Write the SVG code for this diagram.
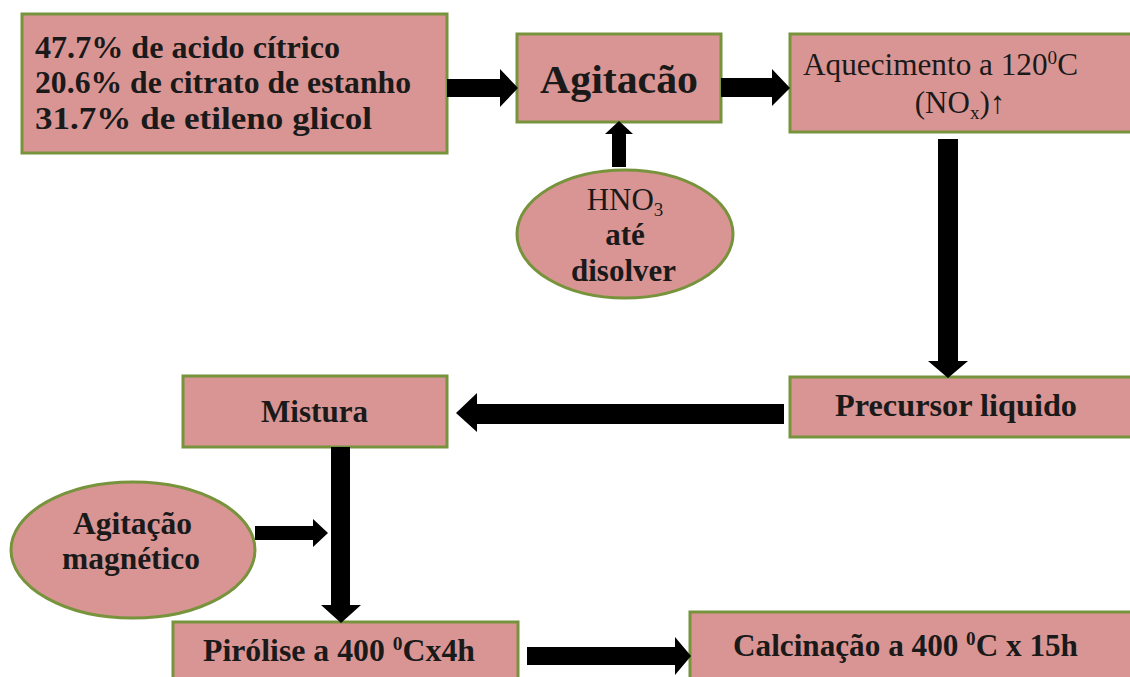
<svg xmlns="http://www.w3.org/2000/svg" width="1130" height="677" viewBox="0 0 1130 677">
<style>
.box{fill:#D99594;stroke:#77933C;stroke-width:3}
.t{font-family:"Liberation Serif","Times New Roman",serif;font-size:31px;fill:#1a1a1a}
.bd{font-family:"Liberation Serif",serif;font-weight:700}
.c{text-anchor:middle}
.sup{font-size:19px}
.arr{fill:#000}
</style>
<rect width="1130" height="677" fill="#fff"/>
<g id="n-mix">
<rect class="box" x="22" y="14" width="425" height="139"/>
<text class="t bd" x="35" y="58" textLength="305" lengthAdjust="spacingAndGlyphs">47.7% de acido cítrico</text>
<text class="t bd" x="35" y="93" textLength="376" lengthAdjust="spacingAndGlyphs">20.6% de citrato de estanho</text>
<text class="t bd" x="35" y="129" textLength="337" lengthAdjust="spacingAndGlyphs">31.7% de etileno glicol</text>
</g>
<g id="n-agitacao">
<rect class="box" x="517" y="34" width="204" height="88"/>
<text class="t bd" x="540" y="93" style="font-size:40px" textLength="158" lengthAdjust="spacingAndGlyphs">Agitacão</text>
</g>
<g id="n-aquecimento">
<rect class="box" x="790" y="34" width="345" height="98"/>
<text class="t" x="803" y="75" textLength="275" lengthAdjust="spacingAndGlyphs">Aquecimento a 120<tspan class="sup" dy="-11">0</tspan><tspan dy="11">C</tspan></text>
<text class="t c" x="960" y="113">(NO<tspan class="sup" dy="6">x</tspan><tspan dy="-6">)↑</tspan></text>
</g>
<g id="n-hno3">
<ellipse class="box" cx="625" cy="234" rx="108" ry="64"/>
<text class="t c" x="625" y="210">HNO<tspan class="sup" dy="6">3</tspan></text>
<text class="t bd c" x="625" y="245">até</text>
<text class="t bd" x="571" y="281" textLength="105" lengthAdjust="spacingAndGlyphs">disolver</text>
</g>
<g id="n-precursor">
<rect class="box" x="790" y="377" width="345" height="60"/>
<text class="t bd" x="835" y="416" textLength="242" lengthAdjust="spacingAndGlyphs">Precursor liquido</text>
</g>
<g id="n-mistura">
<rect class="box" x="183" y="376" width="264" height="71"/>
<text class="t bd" x="261" y="422" textLength="107" lengthAdjust="spacingAndGlyphs">Mistura</text>
</g>
<g id="n-agitacao-mag">
<ellipse class="box" cx="133" cy="550" rx="122" ry="68"/>
<text class="t bd" x="73" y="534" textLength="119" lengthAdjust="spacingAndGlyphs">Agitação</text>
<text class="t bd" x="62" y="569" textLength="138" lengthAdjust="spacingAndGlyphs">magnético</text>
</g>
<g id="n-pirolise">
<rect class="box" x="173" y="622" width="345" height="70"/>
<text class="t bd" x="203" y="661" textLength="272" lengthAdjust="spacingAndGlyphs">Pirólise a 400 <tspan class="sup" dy="-11">0</tspan><tspan dy="11">Cx4h</tspan></text>
</g>
<g id="n-calcinacao">
<rect class="box" x="690" y="612" width="445" height="80"/>
<text class="t bd" x="733" y="656" textLength="345" lengthAdjust="spacingAndGlyphs">Calcinação a 400 <tspan class="sup" dy="-11">0</tspan><tspan dy="11">C x 15h</tspan></text>
</g>
<g id="connectors">
<polygon class="arr" points="447,79 500,79 500,69 518,88 500,107 500,97 447,97"/>
<polygon class="arr" points="721,78 772,78 772,69 790,88 772,106 772,97 721,97"/>
<polygon class="arr" points="612,167 612,134 605,134 619,121 633,134 626,134 626,167"/>
<polygon class="arr" points="938,139 958,139 958,361 968,361 948,378 928,361 938,361"/>
<polygon class="arr" points="784,404 784,424 477,424 477,432 456,413 477,393 477,404"/>
<polygon class="arr" points="331,447 350,447 350,605 361,605 341,623 321,605 331,605"/>
<polygon class="arr" points="255,526 313,526 313,519 328,533 313,547 313,540 255,540"/>
<polygon class="arr" points="527,647 675,647 675,637 691,656 675,675 675,665 527,665"/>
</g>
</svg>
